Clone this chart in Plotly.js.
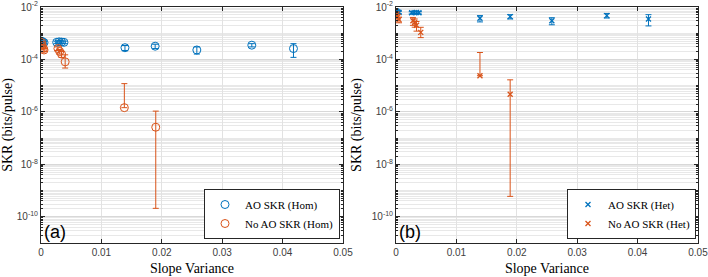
<!DOCTYPE html>
<html>
<head>
<meta charset="utf-8">
<script src="https://cdn.plot.ly/plotly-3.0.1.min.js"></script>
<style>
  html, body { margin: 0; padding: 0; background: #fff; }
  #chart { width: 708px; height: 277px; }
</style>
</head>
<body>
<div id="chart"></div>
<script>
// ---- (a) homodyne detection ----
const homAoX      = [0.0001, 0.0003, 0.0005, 0.0026, 0.0030, 0.0034, 0.0038, 0.0139, 0.0189, 0.0258, 0.0349, 0.0418];
const homAoY      = [5.0e-4, 4.6e-4, 4.4e-4, 4.5e-4, 4.7e-4, 4.6e-4, 4.5e-4, 2.8e-4, 3.2e-4, 2.3e-4, 3.5e-4, 2.6e-4];
const homAoErr    = [0.6e-4, 0.5e-4, 0.5e-4, 0.5e-4, 0.5e-4, 0.5e-4, 0.5e-4, 0.6e-4, 0.6e-4, 0.7e-4, 0.5e-4, 1.4e-4];

const homNoAoX      = [0.0001, 0.0002, 0.0004, 0.0005, 0.0028, 0.0031, 0.0034, 0.0040, 0.0138, 0.0190];
const homNoAoY      = [4.4e-4, 3.4e-4, 2.6e-4, 2.3e-4, 2.6e-4, 2.0e-4, 1.6e-4, 8.1e-5, 1.45e-6, 2.6e-7];
const homNoAoErrUp  = [0.5e-4, 0.4e-4, 0.3e-4, 0.3e-4, 0.4e-4, 0.4e-4, 0.4e-4, 6.9e-5, 1.05e-5, 8.1e-7];
const homNoAoErrLow = [0.5e-4, 0.4e-4, 0.3e-4, 0.3e-4, 0.4e-4, 0.4e-4, 0.4e-4, 3.4e-5, 0, 2.5979e-7];

// ---- (b) heterodyne detection ----
const hetAoX   = [0.0001, 0.0003, 0.0005, 0.0026, 0.0030, 0.0034, 0.0038, 0.0139, 0.0189, 0.0258, 0.0349, 0.0418];
const hetAoY   = [7.0e-3, 6.5e-3, 6.2e-3, 6.0e-3, 6.1e-3, 6.2e-3, 6.0e-3, 3.7e-3, 4.3e-3, 3.0e-3, 4.7e-3, 3.5e-3];
const hetAoErr = [0.8e-3, 0.7e-3, 0.7e-3, 0.6e-3, 0.6e-3, 0.6e-3, 0.6e-3, 1.0e-3, 0.8e-3, 0.9e-3, 0.9e-3, 1.6e-3];

const hetNoAoX      = [0.0001, 0.0003, 0.0005, 0.0028, 0.0031, 0.0034, 0.0041, 0.0139, 0.0189];
const hetNoAoY      = [5.2e-3, 4.2e-3, 3.3e-3, 3.0e-3, 2.6e-3, 2.0e-3, 1.08e-3, 2.4e-5, 4.7e-6];
const hetNoAoErrUp  = [1.2e-3, 1.0e-3, 0.8e-3, 1.0e-3, 0.9e-3, 0.8e-3, 0.6e-3, 1.6e-4, 1.2e-5];
const hetNoAoErrLow = [1.2e-3, 1.0e-3, 0.8e-3, 1.0e-3, 0.9e-3, 0.8e-3, 0.4e-3, 0, 4.6994e-6];

// ---- axis labels ----
const xTickVals = [0, 0.01, 0.02, 0.03, 0.04, 0.05];
const xTickText = ['0', '0.01', '0.02', '0.03', '0.04', '0.05'];
const yTickVals = [1e-10, 1e-8, 1e-6, 1e-4, 1e-2];
const yTickText = ['10<sup>-10</sup>', '10<sup>-8</sup>', '10<sup>-6</sup>', '10<sup>-4</sup>', '10<sup>-2</sup>'];
const yLabel = 'SKR (bits/pulse)';
const xLabel = 'Slope Variance';

const BLUE = '#0072BD';
const ORANGE = '#D95319';
const W = 708, H = 277;
const px = v => v / W;
const py = v => (H - v) / H;

function errSym(arr, color) {
  return { type: 'data', array: arr, visible: true, color: color, thickness: 1, width: 3 };
}
function errAsym(up, low, color) {
  return { type: 'data', symmetric: false, array: up, arrayminus: low, visible: true, color: color, thickness: 1, width: 3 };
}

const circle = c => ({ symbol: 'circle-open', size: 8, color: c, line: { width: 1, color: c } });
const cross = c => ({ symbol: 'x-thin-open', size: 5, color: c, line: { width: 1.3, color: c } });

const traces = [
  { x: homAoX, y: homAoY, error_y: errSym(homAoErr, BLUE), mode: 'markers', marker: circle(BLUE),
    name: 'AO SKR (Hom)', xaxis: 'x', yaxis: 'y', legend: 'legend' },
  { x: homNoAoX, y: homNoAoY, error_y: errAsym(homNoAoErrUp, homNoAoErrLow, ORANGE), mode: 'markers', marker: circle(ORANGE),
    name: 'No AO SKR (Hom)', xaxis: 'x', yaxis: 'y', legend: 'legend' },
  { x: hetAoX, y: hetAoY, error_y: errSym(hetAoErr, BLUE), mode: 'markers', marker: cross(BLUE),
    name: 'AO SKR (Het)', xaxis: 'x2', yaxis: 'y2', legend: 'legend2' },
  { x: hetNoAoX, y: hetNoAoY, error_y: errAsym(hetNoAoErrUp, hetNoAoErrLow, ORANGE), mode: 'markers', marker: cross(ORANGE),
    name: 'No AO SKR (Het)', xaxis: 'x2', yaxis: 'y2', legend: 'legend2' }
];

const tickFont = { family: 'Liberation Sans, Arial, sans-serif', size: 10, color: '#404040' };
const titleFont = { family: 'Liberation Serif, Times New Roman, serif', size: 14, color: '#000' };

function xAxis(domain, anchor) {
  return {
    domain: domain, anchor: anchor, range: [0, 0.05],
    tickvals: xTickVals, ticktext: xTickText, tickfont: tickFont, ticklabeloverflow: 'allow',
    ticks: 'inside', ticklen: 4, tickcolor: '#262626', mirror: 'allticks',
    showline: true, linecolor: '#262626', linewidth: 1,
    showgrid: true, gridcolor: '#e2e2e2', gridwidth: 1, zeroline: false,
    title: { text: xLabel, font: titleFont, standoff: 6 }
  };
}
function yAxis(anchor) {
  return {
    domain: [py(243), py(7)], anchor: anchor, type: 'log', range: [-11, -2],
    tickvals: yTickVals, ticktext: yTickText, tickfont: tickFont, ticklabeloverflow: 'allow',
    ticks: 'inside', ticklen: 4, tickcolor: '#262626', mirror: 'allticks',
    showline: true, linecolor: '#262626', linewidth: 1,
    showgrid: true, gridcolor: '#d8d8d8', gridwidth: 1, zeroline: false,
    minor: { dtick: 'D1', showgrid: true, gridcolor: '#e8e8e8', gridwidth: 1, ticks: 'inside', ticklen: 2, tickcolor: '#262626' },
    title: { text: yLabel, font: titleFont, standoff: 6 }
  };
}

const legendBase = {
  font: { family: 'Liberation Serif, Times New Roman, serif', size: 11, color: '#000' },
  bgcolor: '#ffffff', bordercolor: '#262626', borderwidth: 1,
  xanchor: 'right', yanchor: 'bottom', tracegroupgap: 0, itemwidth: 30
};

const layout = {
  width: W, height: H,
  margin: { l: 0, r: 0, t: 0, b: 0 },
  paper_bgcolor: '#fff', plot_bgcolor: '#fff',
  showlegend: true,
  xaxis: xAxis([px(41), px(343)], 'y'),
  yaxis: yAxis('x'),
  xaxis2: xAxis([px(396), px(698)], 'y2'),
  yaxis2: yAxis('x2'),
  legend: Object.assign({}, legendBase, { x: px(340), y: py(239) }),
  legend2: Object.assign({}, legendBase, { x: px(696), y: py(239) }),
  annotations: [
    { text: '(a)', xref: 'paper', yref: 'paper', x: px(42), y: py(244), xanchor: 'left', yanchor: 'bottom',
      showarrow: false, font: { family: 'Liberation Sans, Arial, sans-serif', size: 18, color: '#000' } },
    { text: '(b)', xref: 'paper', yref: 'paper', x: px(397), y: py(244), xanchor: 'left', yanchor: 'bottom',
      showarrow: false, font: { family: 'Liberation Sans, Arial, sans-serif', size: 18, color: '#000' } }
  ]
};

Plotly.newPlot('chart', traces, layout, { staticPlot: true, displayModeBar: false });
</script>
</body>
</html>
